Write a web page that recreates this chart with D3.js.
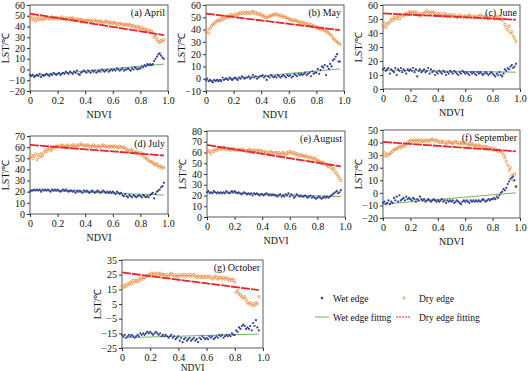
<!DOCTYPE html>
<html>
<head>
<meta charset="utf-8">
<script src="https://d3js.org/d3.v7.min.js"></script>
<style>
  body { margin: 0; background: #fff; }
  svg text { font-family: "Liberation Serif", "Times New Roman", serif; fill: #111; }
</style>
</head>
<body>
<div id="chart"></div>
<script>
// NDVI bins shared by every panel
const ndvi = d3.range(98).map(i => i / 100);

const months = ["(a) April", "(b) May", "(c) June", "(d) July", "(e) August", "(f) September", "(g) October"];

// y-axis ranges and ticks
const yDomains = [[-20, 60], [-10, 60], [0, 60], [0, 70], [0, 80], [-20, 50], [-25, 35]];
const yTicks = [
  [-20, -10, 0, 10, 20, 30, 40, 50, 60],
  [-10, 0, 10, 20, 30, 40, 50, 60],
  [0, 10, 20, 30, 40, 50, 60],
  [0, 10, 20, 30, 40, 50, 60, 70],
  [0, 10, 20, 30, 40, 50, 60, 70, 80],
  [-20, -10, 0, 10, 20, 30, 40, 50],
  [-25, -15, -5, 5, 15, 25, 35]
];
const xTicks = [0, 0.2, 0.4, 0.6, 0.8, 1.0];

// dry edge LST per NDVI bin
const dryApr = [48,46,49,47,45,48,46,49,47,46, 48,47,49,48,47,48,49,47,48,48, 48,47,48,49,47,48,47,48,47,48,
  47,48,47,46,47,46,47,46,46,45, 46,45,46,45,46,44,45,46,45,44, 45,44,45,43,44,45,44,43,44,43,
  43,44,43,42,43,42,43,42,41,42, 42,41,42,41,40,41,40,39,40,39, 38,39,37,38,37,36,37,35,36,34, 30,31,28,26,25,27,26,28];
const dryMay = [38,40,37,41,43,44,45,46,47,48, 47,49,48,50,49,51,50,51,52,51, 52,51,53,52,53,54,53,54,53,54,
  53,54,53,54,55,53,54,53,52,53, 52,51,51,50,50,50,51,51,52,52, 52,53,52,51,52,50,51,50,50,49,
  49,48,48,47,48,47,47,46,46,45, 46,45,45,44,45,43,44,43,43,42, 42,41,41,40,41,40,39,39,38,37, 36,35,33,32,31,30,29,28];
const dryJun = [45,47,44,46,47,48,50,49,51,50, 51,52,50,52,53,52,53,54,53,55, 55,54,55,54,55,53,54,52,53,54,
  54,55,56,55,54,55,54,55,54,53, 54,53,54,52,53,54,53,52,53,52, 53,52,53,52,51,52,53,52,51,52,
  52,51,52,53,52,51,52,51,52,51, 52,53,52,51,52,51,52,50,51,52, 51,50,51,52,51,50,51,49,50,46, 44,42,45,40,41,38,36,34];
const dryJul = [51,53,50,52,54,49,53,51,54,52, 55,57,56,58,59,57,58,60,59,61, 61,60,61,62,61,60,61,62,61,60,
  61,62,61,60,62,61,62,63,62,61, 62,61,62,61,60,61,62,61,60,61, 61,60,61,62,61,60,61,60,61,60,
  61,60,61,60,59,61,60,59,60,59, 58,57,56,58,57,56,55,56,55,54, 55,53,54,51,50,49,48,47,47,46, 45,44,45,43,42,43,41,42];
const dryAug = [60,62,61,59,62,61,63,62,64,63, 64,63,65,64,63,64,63,62,64,63, 63,62,63,62,63,62,63,62,61,62,
  62,63,62,61,62,62,61,62,61,62, 61,60,61,60,59,60,61,60,59,60, 60,59,60,58,59,60,59,58,60,59,
  61,60,59,60,58,59,58,57,58,57, 57,56,57,56,55,56,55,54,55,53, 53,52,51,50,51,50,49,48,47,48, 46,44,45,42,40,38,36,34];
const drySep = [30,32,29,31,30,31,32,33,34,35, 35,36,37,36,37,38,37,39,40,41, 42,41,42,41,42,41,42,41,42,41,
  41,42,41,42,41,42,43,42,41,42, 41,40,41,40,41,40,39,40,41,40, 40,39,40,41,40,39,40,39,40,39,
  40,39,38,39,38,39,38,37,38,37, 38,37,36,37,36,37,36,35,36,35, 35,34,35,34,33,34,33,32,30,28, 25,22,18,20,14,10,15,5];
const dryOct = [17,16,18,17,19,18,20,19,21,20, 21,20,22,21,23,22,23,24,24,25, 25,26,25,26,25,26,25,26,25,25,
  25,24,25,24,25,26,25,24,25,24, 24,25,24,25,24,25,24,25,24,25, 24,25,24,23,24,23,24,23,24,23,
  24,23,24,23,22,23,24,23,22,23, 23,22,23,22,23,22,21,22,21,22, 20,13,14,12,11,10,9,10,8,6, 5,6,4,5,4,6,5,10];

// wet edge LST per NDVI bin
const wetApr = [-5,-6,-5,-7,-6,-5,-6,-4,-7,-5, -6,-5,-4,-5,-6,-4,-5,-3,-4,-5, -4,-3,-5,-4,-3,-4,-2,-3,-4,-2,
  -3,-4,-2,-3,-1,-4,-5,-3,-2,-1, -2,-3,-1,-2,-3,-1,-2,-1,-3,-2, -1,-2,0,-1,-2,-1,0,-2,-1,0,
  -1,0,-1,1,0,-1,0,1,-1,0, 0,1,0,-1,1,0,2,1,0,1, 1,3,2,4,3,5,4,5,4,5, 8,10,12,14,15,13,11,10];
const wetMay = [-1,0,-2,-1,-2,-3,-1,-2,-1,-2, -1,-2,1,-1,0,0,-1,1,0,-1, 0,1,0,-1,1,0,2,1,0,1,
  1,2,0,1,3,1,2,0,1,2, 2,3,1,2,-1,2,1,3,2,1, 2,1,3,2,1,2,3,2,1,3,
  2,3,1,2,4,3,2,4,3,4, 3,4,5,3,4,5,2,6,4,5, 5,8,4,7,10,9,11,3,10,8, 12,10,15,16,18,20,14,14];
const wetJun = [14,15,13,14,15,11,14,13,12,15, 10,14,13,15,12,14,13,11,14,13, 14,13,15,12,14,9,13,14,12,13,
  14,12,13,15,11,14,12,13,10,12, 11,13,12,11,13,12,10,12,11,13, 12,11,13,12,11,10,12,11,13,12,
  11,12,11,10,12,11,12,11,10,12, 11,12,11,10,11,12,11,10,11,12, 11,10,9,11,10,12,10,9,11,14, 13,15,14,16,17,15,16,18];
const wetJul = [20,21,21,22,21,22,21,22,20,22, 21,22,21,22,21,20,22,21,22,21, 22,21,20,21,22,21,22,21,20,21,
  21,20,21,19,21,20,21,20,19,21, 20,21,20,19,20,21,20,19,20,21, 20,19,20,21,20,19,20,19,20,19,
  20,19,18,20,19,18,19,17,16,18, 16,15,17,16,15,17,16,15,16,17, 16,15,17,16,15,16,15,17,18,19, 14,18,20,21,22,24,25,28];
const wetAug = [23,24,22,23,22,24,23,22,23,22, 23,22,23,22,24,23,22,23,24,23, 24,23,22,23,22,21,22,23,22,21,
  22,21,22,20,22,21,22,21,20,21, 21,20,21,22,21,20,21,20,21,20, 20,19,20,21,19,20,19,21,20,22,
  19,21,20,18,19,21,20,19,20,19, 19,20,19,18,19,20,18,19,18,17, 18,19,18,17,18,19,18,19,18,19, 20,21,22,23,24,22,23,25];
const wetSep = [-8,-7,-9,-8,-6,-9,-7,-8,-4,-6, -3,-7,-2,-6,-5,-4,-6,-3,-5,-4, -5,-6,-4,-5,-7,-5,-6,-3,-5,-6,
  -5,-7,-6,-5,-6,-7,-6,-5,-6,-7, -6,-7,-6,-5,-7,-6,-8,-6,-7,-6, -7,-6,-8,-7,-6,-7,-8,-9,-7,-6,
  -7,-6,-7,-8,-6,-7,-6,-7,-6,-7, -6,-7,-6,-5,-6,-7,-6,-5,-6,-5, -5,-4,-5,-3,-4,-2,0,1,3,2, 4,7,9,11,12,13,10,5];
const wetOct = [-16,-17,-16,-18,-17,-16,-17,-16,-17,-18, -17,-16,-17,-15,-16,-15,-16,-15,-14,-15, -14,-15,-16,-15,-14,-15,-16,-15,-17,-16,
  -17,-16,-17,-18,-17,-16,-18,-17,-19,-18, -17,-20,-18,-21,-19,-18,-20,-19,-18,-20, -19,-18,-20,-19,-21,-18,-19,-17,-18,-19,
  -18,-19,-17,-18,-17,-19,-18,-17,-18,-16, -17,-16,-18,-17,-16,-17,-16,-17,-15,-16, -16,-13,-14,-11,-12,-10,-9,-10,-12,-11, -12,-10,-13,-8,-10,-6,-11,-13];

// linear fits: value at NDVI 0 and at NDVI 0.97
const dryFitStart = [52, 53, 54, 62, 67, 40.5, 26.5];
const dryFitEnd = [32, 39.5, 49.5, 52.5, 47, 33, 14.5];
const wetFitStart = [-6, -2, 13.5, 21.5, 23, -9, -18];
const wetFitEnd = [5, 8, 12, 17, 19, 0, -15.5];
const fitX = [0, 0.97];

const dryAll = [dryApr, dryMay, dryJun, dryJul, dryAug, drySep, dryOct];
const wetAll = [wetApr, wetMay, wetJun, wetJul, wetAug, wetSep, wetOct];

// plot boxes in pixels: [left, right, top, bottom]
const boxes = [
  [30, 168, 5, 91], [206, 344, 5, 91], [383, 520, 5, 89],
  [30, 168, 136, 214], [207, 345, 131, 217], [383, 520, 130, 218],
  [122, 263, 260, 348]
];

const wetColor = "#2f3f94";
const dryColor = "#ec8a3c";
const wetFitColor = "#6fb55e";
const dryFitColor = "#e3262b";

const svg = d3.select("#chart")
  .append("svg")
  .attr("width", 528)
  .attr("height", 371);

boxes.forEach((b, i) => {
  const [x0, x1, y0, y1] = b;
  const x = d3.scaleLinear().domain([0, 1]).range([x0, x1]);
  const y = d3.scaleLinear().domain(yDomains[i]).range([y1, y0]);
  const g = svg.append("g");

  // frame
  g.append("rect")
    .attr("x", x0).attr("y", y0)
    .attr("width", x1 - x0).attr("height", y1 - y0)
    .attr("fill", "none").attr("stroke", "#333").attr("stroke-width", 0.8);

  const yAxis = g.append("g")
    .attr("transform", `translate(${x0},0)`)
    .call(d3.axisLeft(y).tickValues(yTicks[i]).tickSize(3).tickPadding(2)
      .tickFormat(d => d < 0 ? "\u2212" + Math.abs(d) : d));
  const xAxis = g.append("g")
    .attr("transform", `translate(0,${y1})`)
    .call(d3.axisBottom(x).tickValues(xTicks).tickSize(3).tickPadding(3)
      .tickFormat(d => d === 0 ? "0" : d3.format(".1f")(d)));
  [yAxis, xAxis].forEach(a => {
    a.select(".domain").remove();
    a.selectAll("line").attr("stroke", "#333");
    a.selectAll("text").attr("font-size", 10).attr("font-family", "Liberation Serif").attr("fill", "#111");
  });

  // fit lines
  const fitLine = d3.line().x(d => x(d[0])).y(d => y(d[1]));
  g.append("path")
    .datum(fitX.map((v, k) => [v, k === 0 ? wetFitStart[i] : wetFitEnd[i]]))
    .attr("d", fitLine)
    .attr("stroke", wetFitColor).attr("stroke-width", 1).attr("fill", "none");

  // points
  g.selectAll(".dry")
    .data(dryAll[i])
    .join("circle")
    .attr("cx", (_, k) => x(ndvi[k]))
    .attr("cy", d => y(d))
    .attr("r", 1.2)
    .attr("fill", "none")
    .attr("stroke", dryColor)
    .attr("stroke-width", 0.8);
  g.selectAll(".wet")
    .data(wetAll[i])
    .join("circle")
    .attr("cx", (_, k) => x(ndvi[k]))
    .attr("cy", d => y(d))
    .attr("r", 1.1)
    .attr("fill", wetColor);

  g.append("path")
    .datum(fitX.map((v, k) => [v, k === 0 ? dryFitStart[i] : dryFitEnd[i]]))
    .attr("d", fitLine)
    .attr("stroke", dryFitColor).attr("stroke-width", 1.8)
    .attr("stroke-dasharray", "9,1").attr("fill", "none");

  // month label
  g.append("text")
    .attr("x", x1 - 3).attr("y", y0 + 11)
    .attr("text-anchor", "end")
    .attr("font-size", 10)
    .text(months[i]);

  // axis titles
  g.append("text")
    .attr("transform", `translate(${x0 - 21},${(y0 + y1) / 2}) rotate(-90)`)
    .attr("text-anchor", "middle")
    .attr("font-size", 10)
    .text("LST/\u2103");
  g.append("text")
    .attr("x", (x0 + x1) / 2)
    .attr("y", i === 6 ? y1 + 22.5 : y1 + 27)
    .attr("text-anchor", "middle")
    .attr("font-size", i === 6 ? 9.5 : 10)
    .text("NDVI");
});

// legend
const legend = svg.append("g");
legend.append("circle").attr("cx", 322).attr("cy", 298).attr("r", 1.3).attr("fill", wetColor);
legend.append("text").attr("x", 333).attr("y", 301.5).attr("font-size", 9.5).text("Wet edge");
legend.append("circle").attr("cx", 404).attr("cy", 298).attr("r", 1.3)
  .attr("fill", "none").attr("stroke", dryColor).attr("stroke-width", 0.7);
legend.append("text").attr("x", 419).attr("y", 301.5).attr("font-size", 9.5).text("Dry edge");
legend.append("line").attr("x1", 315).attr("x2", 329).attr("y1", 317).attr("y2", 317)
  .attr("stroke", wetFitColor).attr("stroke-width", 1);
legend.append("text").attr("x", 333).attr("y", 320.5).attr("font-size", 9.5).text("Wet edge fittng");
legend.append("line").attr("x1", 396).attr("x2", 410).attr("y1", 317).attr("y2", 317)
  .attr("stroke", dryFitColor).attr("stroke-width", 1).attr("stroke-dasharray", "2,1");
legend.append("text").attr("x", 419).attr("y", 320.5).attr("font-size", 9.5).text("Dry edge fitting");
</script>
</body>
</html>
